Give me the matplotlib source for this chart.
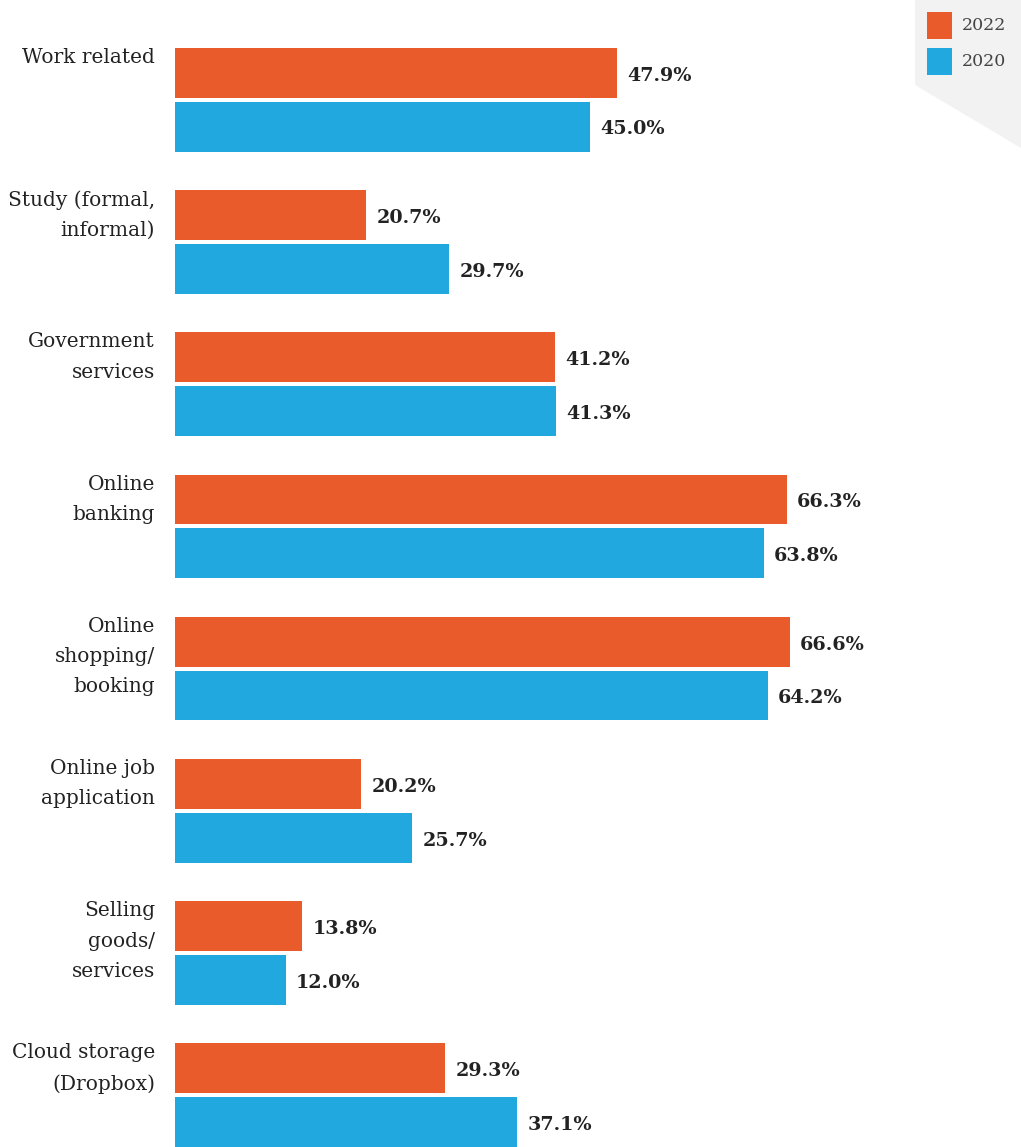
import matplotlib
matplotlib.use("Agg")
import matplotlib.pyplot as plt
from matplotlib.patches import Polygon, Rectangle
from matplotlib import font_manager

categories = ["Work related", "Study (formal,\ninformal)", "Government\nservices",
              "Online\nbanking", "Online\nshopping/\nbooking", "Online job\napplication",
              "Selling\ngoods/\nservices", "Cloud storage\n(Dropbox)"]
values_2022 = [47.9, 20.7, 41.2, 66.3, 66.6, 20.2, 13.8, 29.3]
values_2020 = [45.0, 29.7, 41.3, 63.8, 64.2, 25.7, 12.0, 37.1]
series_labels = ["2022", "2020"]

c2022 = "#EA5B2C"
c2020 = "#20A8DF"
txt = "#222222"
FONT = ["DejaVu Serif"]
names = {f.name for f in font_manager.fontManager.ttflist}
if "DejaVu Serif Condensed" in names:
    VFONT = ["DejaVu Serif Condensed"]
    vsize = 15
else:
    VFONT = ["DejaVu Serif"]
    vsize = 13.8

W, H = 1021, 1147
fig = plt.figure(figsize=(W / 100, H / 100), dpi=100)
fig.patch.set_facecolor("white")

# light gray decorative shape behind legend
bg = Polygon([(915 / W, 1.0), (1.0, 1.0), (1.0, 1 - 148 / H), (915 / W, 1 - 85 / H)],
             closed=True, transform=fig.transFigure, facecolor="#f2f2f2",
             edgecolor="none", zorder=0)
fig.patches.append(bg)

left_px, top_px = 175, 48
ax = fig.add_axes([left_px / W, 0, 1 - left_px / W, 1 - top_px / H])
ax.set_facecolor("none")
px_per_pct = 9.23
ax.set_xlim(0, (W - left_px) / px_per_pct)

bh = 0.35
off = 0.378
n = len(categories)
ys = list(range(n))
ax.barh([y for y in ys], values_2022, height=bh, color=c2022, zorder=2)
ax.barh([y + off for y in ys], values_2020, height=bh, color=c2020, zorder=2)
ax.set_ylim(n - 1 + off + bh / 2, -bh / 2)

for y, v in zip(ys, values_2022):
    ax.text(v + 1.1, y + 0.02, f"{v:.1f}%", va="center", ha="left",
            fontsize=vsize, color=txt, family=VFONT, fontweight="bold")
for y, v in zip(ys, values_2020):
    ax.text(v + 1.1, y + off + 0.02, f"{v:.1f}%", va="center", ha="left",
            fontsize=vsize, color=txt, family=VFONT, fontweight="bold")

for y, lab in zip(ys, categories):
    ax.text(-20 / px_per_pct, y - bh / 2 + 0.0, lab, va="top", ha="right",
            fontsize=14.5, color=txt, family=FONT, linespacing=1.75)

for s in ax.spines.values():
    s.set_visible(False)
ax.set_xticks([])
ax.set_yticks([])

# legend
for i, (lab, c) in enumerate(zip(series_labels, [c2022, c2020])):
    y0 = 12 + i * 36
    fig.patches.append(Rectangle((927 / W, 1 - (y0 + 27) / H), 25 / W, 27 / H,
                                 transform=fig.transFigure, facecolor=c,
                                 edgecolor="none", zorder=3))
    fig.text(962 / W, 1 - (y0 + 14) / H, lab, va="center", ha="left",
             fontsize=12.5, color="#444444", family=FONT)

fig.savefig("out.png", dpi=100)
